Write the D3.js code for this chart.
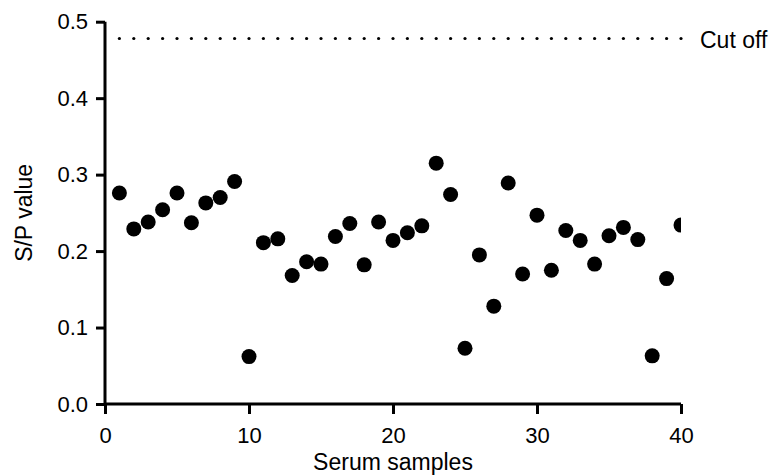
<!DOCTYPE html>
<html><head><meta charset="utf-8">
<script src="https://cdn.jsdelivr.net/npm/d3@7"></script>
<style>body{margin:0;background:#fff;} svg{display:block;font-family:"Liberation Sans",Arial,sans-serif;}</style>
</head><body>
<script>
const samples = d3.range(1, 41);
const spValues = [0.276,0.229,0.238,0.254,0.276,0.237,0.263,0.270,0.291,0.062,
  0.211,0.216,0.168,0.186,0.183,0.219,0.236,0.182,0.238,0.214,
  0.224,0.233,0.315,0.274,0.073,0.195,0.128,0.289,0.170,0.247,
  0.175,0.227,0.214,0.183,0.220,0.231,0.215,0.063,0.164,0.234];
const cutOff = 0.478;
const xTicks = [0,10,20,30,40];
const yTicks = [0,0.1,0.2,0.3,0.4,0.5];

const W=773,H=475;
const svg=d3.select("body").append("svg").attr("width",W).attr("height",H);
const x=d3.scaleLinear().domain([0,40]).range([105,681]);
const y=d3.scaleLinear().domain([0,0.5]).range([404,21.7]);

svg.append("defs").append("clipPath").attr("id","clip").append("rect")
  .attr("x",x(0)).attr("y",0).attr("width",x(40)-x(0)).attr("height",y(0));

// cut off dotted
svg.append("g").selectAll("circle").data(samples).join("circle")
  .attr("cx",d=>x(d)).attr("cy",y(cutOff)).attr("r",1.6).attr("fill","#000");
svg.append("text").attr("x",700).attr("y",48).attr("font-size",23).text("Cut off");

// points
svg.append("g").attr("clip-path","url(#clip)").selectAll("circle").data(spValues).join("circle")
  .attr("cx",(d,i)=>x(samples[i])).attr("cy",d=>y(d)).attr("r",7.5).attr("fill","#000");

const xa=svg.append("g").attr("transform",`translate(0,${y(0)})`)
  .call(d3.axisBottom(x).tickValues(xTicks).tickFormat(d3.format("d")).tickSize(10).tickPadding(13));
const ya=svg.append("g").attr("transform",`translate(${x(0)},0)`)
  .call(d3.axisLeft(y).tickValues(yTicks).tickFormat(d3.format(".1f")).tickSize(9).tickPadding(8));
[xa,ya].forEach(a=>{
  a.select(".domain").attr("stroke-width",3).attr("stroke","#000");
  a.selectAll(".tick line").attr("stroke-width",3).attr("stroke","#000");
  a.selectAll(".tick text").attr("font-size",22).attr("fill","#000").attr("font-family","Liberation Sans, Arial, sans-serif");
});
xa.select(".domain").attr("d",`M${x(0)},0H${x(40)}`);
ya.select(".domain").attr("d",`M0,${y(0)}V${y(0.5)}`);

svg.append("text").attr("x",(x(0)+x(40))/2).attr("y",470).attr("text-anchor","middle").attr("font-size",23).text("Serum samples");
svg.append("text").attr("transform",`translate(32,${(y(0)+y(0.5))/2}) rotate(-90)`).attr("text-anchor","middle").attr("font-size",23).text("S/P value");
</script>
</body></html>
